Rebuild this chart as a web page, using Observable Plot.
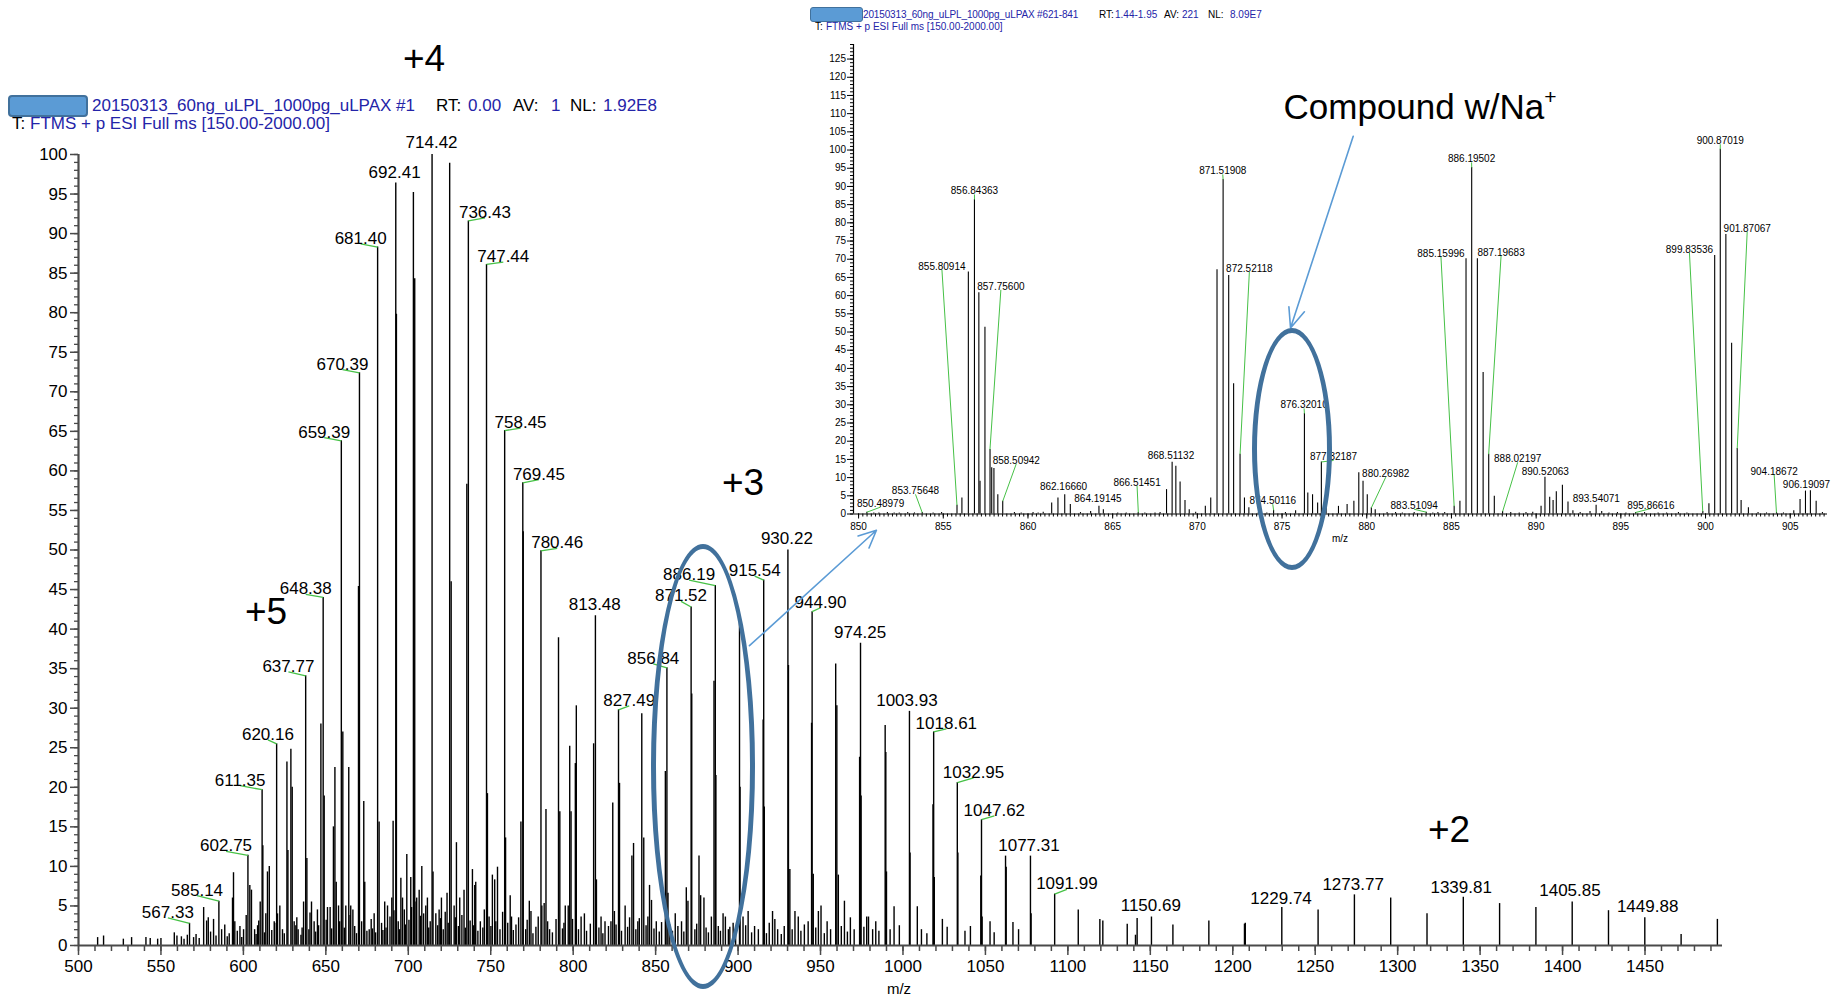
<!DOCTYPE html>
<html>
<head>
<meta charset="utf-8">
<script src="https://cdn.jsdelivr.net/npm/d3@7"></script>
<script src="https://cdn.jsdelivr.net/npm/@observablehq/plot@0.6"></script>
<style>
html, body { margin: 0; padding: 0; background: #fff; }
#page { position: relative; width: 1835px; height: 996px; overflow: hidden; font-family: "Liberation Sans", Arial, Helvetica, sans-serif; }
#page > svg { position: absolute; left: 0; top: 0; }
.abs { position: absolute; white-space: pre; line-height: 1; }
.blue { color: #2424a8; }
.blk { color: #000; }
.redact { position: absolute; background: #5b9bd5; border: 2px solid #41719c; border-radius: 4px; box-sizing: border-box; }
.ell { position: absolute; border: 5px solid #41719c; border-radius: 50%; box-sizing: border-box; }
.big { position: absolute; transform: translate(-50%, -50%); font-size: 37px; line-height: 1; color: #000; white-space: pre; }
</style>
</head>
<body>
<div id="page"></div>
<script>
const FONT = '"Liberation Sans", Arial, Helvetica, sans-serif';

// ---------- Main spectrum (m/z, relative abundance) ----------
const mainLabeled = [[567.33,2.8],[585.14,5.6],[602.75,11.4],[611.35,19.7],[620.16,25.5],[637.77,34.1],[648.38,44.0],[659.39,63.8],[670.39,72.4],[681.40,88.3],[692.41,96.4],[714.42,100],[736.43,91.6],[747.44,86.1],[758.45,65.1],[769.45,58.5],[780.46,49.9],[813.48,41.7],[827.49,29.8],[856.84,35.1],[871.52,42.8],[886.19,45.5],[915.54,46.2],[930.22,50.0],[944.90,42.2],[974.25,38.2],[1003.93,29.6],[1018.61,27.0],[1032.95,20.6],[1047.62,15.9],[1077.31,11.3],[1091.99,6.5],[1150.69,3.6],[1229.74,4.8],[1273.77,6.4],[1339.81,6.1],[1405.85,5.5],[1449.88,3.5]];

const mainOther = [[511.6,1.0],[515.2,1.2],[527.2,0.8],[532.2,1.0],[540.9,1.0],[543.5,0.9],[548.0,0.8],[550.0,0.9],[558.1,1.6],[559.7,1.2],[569.8,1.0],[575.9,4.8],[577.7,3.1],[578.7,3.5],[581.9,3.3],[586.8,2.0],[591.4,1.5],[593.4,6.0],[594.0,9.2],[594.8,3.0],[600.1,2.0],[601.7,3.8],[603.9,7.6],[604.9,7.0],[608.6,2.5],[610.2,5.5],[611.8,12.6],[613.6,4.0],[614.6,9.3],[615.7,10.0],[618.7,3.0],[620.7,4.0],[622.1,5.0],[623.7,2.0],[626.4,23.2],[627.0,12.0],[628.8,24.8],[629.6,20.0],[630.8,3.0],[631.8,2.5],[633.2,2.0],[636.5,5.5],[638.5,11.0],[641.3,5.5],[642.9,3.0],[644.9,4.5],[647.0,28.0],[649.0,18.9],[651.0,4.8],[652.6,4.8],[654.6,15.0],[655.5,22.5],[656.3,8.0],[657.7,5.0],[660.3,27.0],[662.1,5.0],[663.9,22.5],[665.1,5.0],[666.4,4.5],[669.8,45.4],[673.0,18.2],[673.6,8.0],[676.3,2.0],[679.3,4.0],[682.3,15.6],[685.7,5.5],[687.4,5.0],[690.0,6.0],[690.8,15.7],[692.8,79.8],[695.5,8.5],[696.5,6.0],[699.1,11.5],[701.5,8.6],[703.1,95.2],[703.9,84.3],[705.1,6.0],[706.6,7.0],[708.2,10.0],[710.6,5.0],[711.6,6.0],[715.0,9.3],[716.7,4.0],[718.7,4.5],[720.1,6.0],[723.5,6.6],[725.1,98.9],[726.0,46.0],[727.8,5.0],[729.2,13.0],[731.2,6.0],[733.8,7.0],[735.5,58.3],[738.9,9.6],[740.3,7.6],[740.9,8.0],
[748.0,19.2],[749.0,3.6],[751.0,8.9],[752.4,8.3],[754.1,9.9],[759.0,13.6],[761.8,6.3],[762.6,3.6],[768.3,15.6],[769.7,52.3],[773.4,5.6],[774.4,4.3],[781.0,5.0],[782.4,5.3],[783.5,17.2],[784.5,3.0],[791.1,38.9],[791.9,16.9],[795.2,5.0],[797.0,5.0],[797.9,25.2],[798.7,16.9],[801.3,23.0],[801.9,30.3],[804.8,3.6],[806.8,4.0],[812.4,25.5],[814.1,8.3],[816.9,3.6],[819.3,3.0],[824.0,18.0],[825.0,4.3],[828.1,20.5],[831.5,5.0],[835.6,11.3],[836.6,12.9],[839.2,3.0],[841.6,29.3],[842.8,13.6],[845.3,3.6],[846.3,7.6],[847.5,5.7],[850.4,3.0],[855.9,22.0],[857.5,6.6],[861.9,4.0],[868.6,7.3],[869.6,5.6],[871.9,31.8],[876.3,11.3],[877.3,6.3],[879.3,6.0],[883.8,3.6],[885.4,33.4],[886.55,21.5],[890.9,4.0],[892.3,3.6],[895.0,2.3],[900.87,41.0],[901.2,20.0],[903.0,3.6],[906.1,4.3],[915.2,28.5],[915.9,17.5],[920.9,4.3],[922.3,3.3],[930.55,35.4],[931.4,9.6],[934.5,4.3],[936.5,3.6],[942.5,3.0],[944.57,28.1],[945.6,9.0],[948.7,4.3],[950.3,5.0],[959.2,35.6],[959.9,30.3],[960.8,8.9],[964.5,5.6],[973.7,23.8],[974.6,18.9],[978.0,3.6],[979.1,3.6],[989.2,27.8],[989.6,24.4],[990.0,9.3],[994.6,4.9],
[1004.3,11.7],[1008.7,4.9],[1018.2,17.8],[1019.0,8.6],[1023.9,3.3],[1033.3,11.7],[1047.2,8.8],[1048.0,3.6],[1052.8,3.0],[1062.2,11.3],[1062.6,9.9],[1066.7,2.9],[1077.7,4.0],[1106.3,4.5],[1119.4,3.3],[1121.2,3.1],[1136.0,2.7],[1141.0,1.3],[1142.0,3.4],[1163.7,2.6],[1185.5,3.1],[1207.1,2.7],[1207.6,2.8],[1251.75,4.5],[1295.78,6.0],[1317.8,4.0],[1361.82,5.3],[1383.84,4.8],[1427.86,4.4],[1471.9,1.4],[1493.9,3.3]];

const mainNoise = [[562.4,1.1],[564.0,0.8],[566.0,1.3],[571.3,1.4],[573.2,0.9],[580.1,1.7],[583.4,1.2],[588.7,2.6],[590.2,1.1],[596.3,1.8],[597.9,2.4],[599.0,1.0],[606.8,2.0],[607.7,1.4],[609.3,3.1],[612.8,1.6],[617.2,1.9],[619.0,2.8],[624.8,1.5],[632.4,3.5],[634.9,1.3],[635.6,2.2],[639.7,2.0],[640.4,4.1],[643.8,1.7],[645.6,2.5],[650.2,3.2],[653.5,2.1],[658.4,3.0],[661.2,2.2],[664.7,3.8],[667.5,2.4],[668.6,1.5],[671.7,3.0],[674.9,1.8],[677.5,3.3],[678.3,2.1],[680.2,1.6],[683.8,2.8],[684.6,1.9],[686.5,2.2],[688.9,3.6],[691.3,4.4],[693.9,3.0],[694.7,2.0],[697.6,4.5],[698.2,2.6],[700.4,3.2],[702.0,4.8],[704.7,5.5],[707.4,3.7],[709.3,4.0],[712.4,2.2],[713.3,3.0],[717.8,2.5],[719.5,3.4],[721.2,2.0],[722.4,4.2],[724.2,2.8],[728.5,3.5],[730.4,2.4],[732.5,3.8],[734.6,2.2],[737.5,3.1],[739.6,2.5],[742.2,1.8],[743.7,3.0],[745.2,2.2],[746.1,4.5],[750.1,2.4],[753.1,3.0],[755.6,2.0],[757.2,4.2],[760.3,2.8],[763.7,1.9],[765.3,2.6],[766.9,3.5],[771.2,2.0],[772.1,3.2],[775.6,1.5],[777.4,2.3],[778.8,3.6],[785.7,2.0],[787.4,1.6],[789.6,3.3],[793.5,2.1],[794.4,2.8],[799.6,3.3],[803.2,2.0],[808.1,1.8],[810.4,2.7],[815.6,2.2],[818.0,1.5],[821.4,2.4],[822.9,3.0],[826.0,2.6],[829.3,1.8],[833.0,2.3],[834.2,3.5],[838.0,2.0],[840.1,3.4],[844.2,2.5],[849.0,2.1],[852.2,1.7],[853.6,2.9],[858.6,2.6],[860.2,1.8],[863.5,2.4],[865.7,3.0],[867.1,1.7],[873.8,2.0],[874.9,2.7],[880.6,2.2],[882.0,1.6],[888.0,2.4],[889.3,1.8],[894.1,2.0],[897.0,2.8],[898.5,1.8],[904.6,2.5],[908.2,1.6],[910.0,2.4],[912.3,2.0],[917.2,1.5],[918.9,2.8],[924.0,2.0],[926.2,1.4],[928.0,2.4],[932.8,2.0],[938.1,1.8],[940.2,2.6],[947.1,2.2],[952.3,1.5],[954.0,3.0],[956.1,2.0],[962.6,2.4],[966.3,1.7],[968.1,3.5],[970.4,2.0],[976.3,2.3],[981.6,2.0],[983.5,3.0],[985.4,1.8],[992.2,2.0],[997.8,2.5],[1011.2,2.0],[1014.5,1.5],[1026.8,2.3],[1037.6,1.8],[1040.9,2.4],[1055.3,1.6],[1070.1,2.0]];

// label placement (label centre m/z, label baseline abundance), one per labelled peak
const mainLabelPlacement = [[554.2,3.5],[571.9,6.3],[589.5,11.9],[598.0,20.2],[614.9,26.0],[627.3,34.6],[637.8,44.4],[649.0,64.2],[660.1,72.8],[671.1,88.7],[691.7,97.0],[714.1,100.8],[746.5,92.0],[757.6,86.4],[768.1,65.4],[779.2,58.9],[790.3,50.2],[813.1,42.4],[834.0,30.3],[848.6,35.6],[865.4,43.5],[870.3,46.2],[910.1,46.7],[929.6,50.7],[950.0,42.7],[974.0,38.9],[1002.4,30.3],[1026.3,27.4],[1042.8,21.2],[1055.4,16.4],[1076.4,12.0],[1099.4,7.1],[1150.3,4.3],[1229.3,5.3],[1273.0,7.0],[1338.5,6.7],[1404.5,6.2],[1451.6,4.2]];

const mainXTicks = [500,550,600,650,700,750,800,850,900,950,1000,1050,1100,1150,1200,1250,1300,1350,1400,1450];
const mainYTicks = [0,5,10,15,20,25,30,35,40,45,50,55,60,65,70,75,80,85,90,95,100];

// ---------- Inset (zoomed spectrum) ----------
const insetPeaks = [[850.49,0.5],[851.2,0.3],[852.4,0.3],[853.76,0.4],[855.81,2.4],[856.1,4.4],[856.48,66.5],[856.84,86.4],[857.10,60.8],[857.17,9.0],[857.46,51.3],[857.76,17.7],[857.86,12.7],[857.99,12.5],[858.22,5.3],[858.51,3.5],[859.2,0.4],[860.9,0.5],[861.4,3.0],[861.77,4.4],[862.17,5.3],[862.5,2.6],[863.7,0.7],[864.19,2.1],[864.45,1.2],[865.3,0.3],[866.51,0.4],[867.5,0.3],[868.18,6.7],[868.51,14.2],[868.73,13.1],[868.98,8.8],[869.27,3.7],[869.52,1.2],[870.47,2.1],[870.79,4.4],[871.16,67.1],[871.52,91.9],[871.85,65.5],[872.14,35.8],[872.52,16.4],[872.78,4.4],[873.04,1.7],[874.5,1.0],[875.8,0.9],[876.32,27.6],[876.52,5.8],[876.8,5.3],[877.1,3.0],[877.32,14.3],[877.6,2.6],[878.33,2.1],[878.84,2.6],[879.24,3.5],[879.53,11.3],[879.78,9.0],[880.03,5.3],[880.27,1.7],[880.5,1.2],[881.7,0.4],[883.51,0.5],[884.6,0.4],[885.16,2.1],[885.5,3.5],[885.86,70.1],[886.195,95.2],[886.53,70.1],[886.87,38.9],[887.2,16.4],[887.53,4.9],[888.02,0.7],[889.4,0.4],[890.29,2.1],[890.52,10.1],[890.8,4.6],[891.0,3.7],[891.19,6.1],[891.55,7.9],[891.88,3.3],[892.17,0.9],[893.18,0.7],[893.54,2.4],[893.87,0.7],[895.87,0.4],[897.2,0.3],[899.84,0.7],[900.2,2.8],[900.54,71.0],[900.87,100.2],[901.2,76.8],[901.54,46.9],[901.87,18.0],[902.1,3.7],[902.53,1.7],[904.19,0.4],[905.21,0.9],[905.58,4.0],[905.9,6.3],[906.19,6.4],[906.53,3.5]];
const insetNoise = [[850.9,0.3],[851.7,0.4],[852.1,0.3],[852.9,0.4],[853.3,0.3],[854.4,0.3],[854.9,0.4],[859.6,0.3],[860.3,0.4],[860.6,0.3],[863.1,0.4],[865.8,0.3],[866.9,0.3],[867.8,0.4],[869.9,0.5],[873.6,0.4],[874.1,0.3],[875.2,0.4],[881.2,0.4],[882.1,0.3],[882.8,0.4],[883.9,0.3],[884.2,0.4],[888.5,0.4],[889.0,0.3],[889.8,0.5],[892.6,0.4],[894.3,0.3],[894.8,0.4],[895.3,0.3],[896.4,0.4],[897.7,0.3],[898.4,0.4],[898.9,0.3],[903.1,0.4],[903.6,0.3],[904.6,0.3],[906.9,0.4]];

const insetLabeled = [["850.48979",0.5],["853.75648",0.4],["855.80914",2.4],["856.84363",86.4],["857.75600",17.7],["858.50942",3.5],["862.16660",5.3],["864.19145",2.1],["866.51451",0.4],["868.51132",14.2],["871.51908",91.9],["872.52118",16.4],["874.50116",1.0],["876.32010",27.6],["877.32187",14.3],["880.26982",1.7],["883.51094",0.5],["885.15996",2.1],["886.19502",95.2],["887.19683",16.4],["888.02197",0.7],["890.52063",10.1],["893.54071",2.4],["895.86616",0.4],["899.83536",0.7],["900.87019",100.2],["901.87067",18.0],["904.18672",0.4],["906.19097",6.4]];
const insetLabelPlacement = [[851.3,1.9],[853.36,5.4],[854.92,67.1],[856.84,87.8],[858.4,61.6],[859.31,13.8],[862.1,6.6],[864.13,3.3],[866.44,7.8],[868.44,15.2],[871.5,93.3],[873.07,66.5],[874.45,2.7],[876.3,29.0],[878.04,14.7],[881.12,10.1],[882.8,1.3],[884.38,70.7],[886.19,96.6],[887.93,71.0],[888.91,14.2],[890.54,10.8],[893.55,3.3],[896.77,1.5],[899.05,71.8],[900.87,101.6],[902.46,77.6],[904.05,10.8],[905.96,7.2]];

const insetXTicks = [850,855,860,865,870,875,880,885,890,895,900,905];
const insetYTicks = [0,5,10,15,20,25,30,35,40,45,50,55,60,65,70,75,80,85,90,95,100,105,110,115,120,125];

// annotation arrows (data coordinates of each panel)
const zoomArrow = [{x1: 906.9, y1: 37.9, x2: 983.9, y2: 52.5}];
const compoundArrow = [{x1: 879.2, y1: 103.8, x2: 875.5, y2: 51.1}];

// ---------- build ----------
const page = document.getElementById("page");
const toObj = ([mz, h]) => ({mz, h});
const AX = "#4a4a4a";
const GREEN = "#46c146";
const plain = d => String(d);

const mainPeaks = [...mainNoise, ...mainOther, ...mainLabeled].map(toObj);
const mainLabels = mainLabeled.map(([mz, h], i) => ({mz, h, t: mz.toFixed(2), lx: mainLabelPlacement[i][0], ly: mainLabelPlacement[i][1]}));
const mainLeaders = mainLabels.filter(d => Math.abs(d.lx - d.mz) * 1.649 > 4);

const mainPlot = Plot.plot({
  width: 1835, height: 996,
  marginLeft: 78, marginRight: 113, marginTop: 154, marginBottom: 51,
  x: {domain: [500, 1497]},
  y: {domain: [0, 100]},
  style: {background: "transparent", fontFamily: FONT, color: "#000", overflow: "visible"},
  marks: [
    Plot.ruleX(mainPeaks, {x: "mz", y1: 0, y2: "h", stroke: "#000", strokeWidth: 1.4}),
    Plot.axisY({ticks: d3.range(0, 100.5, 1), tickSize: 4, tickFormat: () => "", label: null, stroke: AX, strokeWidth: 1.3}),
    Plot.axisY({ticks: mainYTicks, tickSize: 8, tickPadding: 3, fontSize: 17, tickFormat: plain, label: null, stroke: AX, strokeWidth: 1.5}),
    Plot.axisX({ticks: d3.range(500, 1497, 10), tickSize: 6, tickFormat: () => "", label: null, stroke: AX, strokeWidth: 1.5}),
    Plot.axisX({ticks: mainXTicks, tickSize: 10, tickPadding: 4, fontSize: 17, tickFormat: plain, label: null, stroke: AX, strokeWidth: 1.5}),
    Plot.ruleY([0], {stroke: AX, strokeWidth: 2.2}),
    Plot.ruleX([500], {stroke: AX, strokeWidth: 2.2}),
    Plot.link(mainLeaders, {x1: "lx", y1: "ly", x2: "mz", y2: "h", stroke: GREEN, strokeWidth: 1.3}),
    Plot.text(mainLabels, {x: "lx", y: "ly", text: "t", fontSize: 17, lineAnchor: "bottom", fill: "#000"}),
    Plot.arrow(zoomArrow, {x1: "x1", y1: "y1", x2: "x2", y2: "y2", stroke: "#5b9bd5", strokeWidth: 1.6, headLength: 18, headAngle: 50})
  ]
});
page.appendChild(mainPlot);

const insetPeakObjs = [...insetNoise, ...insetPeaks].map(toObj);
const insetLabels = insetLabeled.map(([t, h], i) => ({t, mz: +t, h, lx: insetLabelPlacement[i][0], ly: insetLabelPlacement[i][1]}));
const insetLeaders = insetLabels.filter(d => Math.abs(d.lx - d.mz) * 16.94 > 5 || Math.abs(d.ly - d.h) * 3.643 > 5);

const insetPlot = Plot.plot({
  width: 1835, height: 996,
  marginLeft: 853, marginRight: 8, marginTop: 44, marginBottom: 482.5,
  x: {domain: [849.7, 907.2]},
  y: {domain: [0, 129]},
  style: {background: "transparent", fontFamily: FONT, color: "#000", overflow: "visible"},
  marks: [
    Plot.ruleX(insetPeakObjs, {x: "mz", y1: 0, y2: "h", stroke: "#000", strokeWidth: 1.1}),
    Plot.axisY({ticks: d3.range(0, 129.5, 1), tickSize: 3, tickFormat: () => "", label: null, stroke: "#000", strokeWidth: 1}),
    Plot.axisY({ticks: insetYTicks, tickSize: 6, tickPadding: 1.5, fontSize: 10, tickFormat: plain, label: null, stroke: "#000", strokeWidth: 1}),
    Plot.axisX({ticks: d3.range(850, 907.1, 0.25), tickSize: 3, tickFormat: () => "", label: null, stroke: "#000", strokeWidth: 1}),
    Plot.axisX({ticks: insetXTicks, tickSize: 5, tickPadding: 4, fontSize: 10, tickFormat: plain, label: null, stroke: "#000", strokeWidth: 1}),
    Plot.ruleY([0], {stroke: "#000", strokeWidth: 1.2}),
    Plot.ruleX([849.7], {stroke: "#000", strokeWidth: 1.2}),
    Plot.link(insetLeaders, {x1: "lx", y1: "ly", x2: "mz", y2: "h", stroke: GREEN, strokeWidth: 1}),
    Plot.text(insetLabels, {x: "lx", y: "ly", text: "t", fontSize: 10, lineAnchor: "bottom", fill: "#000"}),
    Plot.arrow(compoundArrow, {x1: "x1", y1: "y1", x2: "x2", y2: "y2", stroke: "#5b9bd5", strokeWidth: 1.6, headLength: 20, headAngle: 45})
  ]
});
page.appendChild(insetPlot);

// ---------- text annotations / headers ----------
function addDiv(cls, style, html) {
  const d = document.createElement("div");
  d.className = cls;
  d.setAttribute("style", style);
  d.innerHTML = html;
  page.appendChild(d);
  return d;
}
// main header
addDiv("abs blue", "left:92px;top:97px;font-size:17px;", "20150313_60ng_uLPL_1000pg_uLPAX #1");
addDiv("abs blk", "left:436px;top:97px;font-size:17px;", "RT:");
addDiv("abs blue", "left:468px;top:97px;font-size:17px;", "0.00");
addDiv("abs blk", "left:513px;top:97px;font-size:17px;", "AV:");
addDiv("abs blue", "left:551px;top:97px;font-size:17px;", "1");
addDiv("abs blk", "left:570px;top:97px;font-size:17px;", "NL:");
addDiv("abs blue", "left:603px;top:97px;font-size:17px;", "1.92E8");
addDiv("abs blk", "left:12px;top:115px;font-size:17px;", "T:");
addDiv("abs blue", "left:30px;top:115px;font-size:17px;", "FTMS + p ESI Full ms [150.00-2000.00]");
addDiv("redact", "left:8px;top:95px;width:80px;height:22px;", "");
// inset header
addDiv("abs blue", "left:863px;top:10px;font-size:10px;letter-spacing:-0.15px;", "20150313_60ng_uLPL_1000pg_uLPAX #621-841");
addDiv("abs blk", "left:1099px;top:10px;font-size:10px;", "RT:");
addDiv("abs blue", "left:1115px;top:10px;font-size:10px;", "1.44-1.95");
addDiv("abs blk", "left:1164px;top:10px;font-size:10px;", "AV:");
addDiv("abs blue", "left:1182px;top:10px;font-size:10px;", "221");
addDiv("abs blk", "left:1208px;top:10px;font-size:10px;", "NL:");
addDiv("abs blue", "left:1230px;top:10px;font-size:10px;", "8.09E7");
addDiv("abs blk", "left:815px;top:21.5px;font-size:10px;", "T:");
addDiv("abs blue", "left:826px;top:21.5px;font-size:10px;", "FTMS + p ESI Full ms [150.00-2000.00]");
addDiv("redact", "left:810px;top:7px;width:53px;height:15px;border-width:1.5px;border-radius:3px;", "");
// axis titles
addDiv("big", "left:899px;top:988px;font-size:15px;", "m/z");
addDiv("big", "left:1340px;top:539px;font-size:10px;", "m/z");
// charge-state labels
addDiv("big", "left:424px;top:58px;", "+4");
addDiv("big", "left:266px;top:611px;", "+5");
addDiv("big", "left:743px;top:482px;", "+3");
addDiv("big", "left:1449px;top:829px;", "+2");
addDiv("big", "left:1420px;top:105px;font-size:35px;", "Compound w/Na<span style=\"font-size:60%;vertical-align:0.7em\">+</span>");
// ellipses
addDiv("ell", "left:651px;top:544px;width:104px;height:445px;", "");
addDiv("ell", "left:1252px;top:328px;width:80px;height:242px;", "");
</script>
</body>
</html>
